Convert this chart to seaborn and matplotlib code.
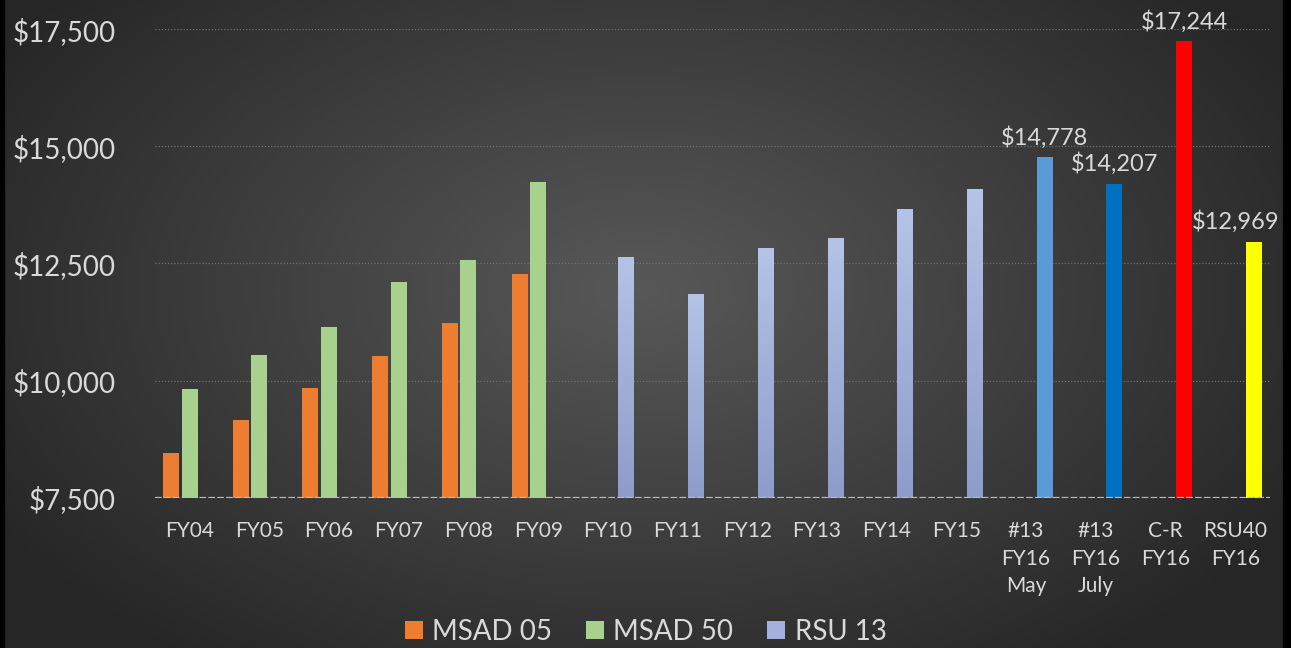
import numpy as np
import pandas as pd
import matplotlib.pyplot as plt
import seaborn as sns
from matplotlib.patches import Patch, Rectangle
from matplotlib.colors import LinearSegmentedColormap

# chart data
categories = ["FY04", "FY05", "FY06", "FY07", "FY08", "FY09",
              "FY10", "FY11", "FY12", "FY13", "FY14", "FY15",
              "#13\nFY16\nMay", "#13\nFY16\nJuly", "C-R\nFY16", "RSU40\nFY16"]
msad05 = [8460, 9150, 9840, 10520, 11220, 12270]
msad50 = [9820, 10550, 11150, 12100, 12570, 14230]
rsu13 = [12630, 11840, 12830, 13040, 13660, 14080]
fy16 = [14778, 14207, 17244, 12969]
fy16_colors = ["#5b9bd5", "#0070c0", "#ff0000", "#ffff00"]
series_names = ["MSAD 05", "MSAD 50", "RSU 13"]
series_colors = ["#ed7d31", "#a9d18e", "#a3b1dc"]
yticks = [7500, 10000, 12500, 15000, 17500]

rows = []
for c, v in zip(categories[:6], msad05):
    rows.append((c, "MSAD 05", v))
for c, v in zip(categories[:6], msad50):
    rows.append((c, "MSAD 50", v))
for c, v in zip(categories[6:], rsu13 + fy16):
    rows.append((c, "RSU 13", v))
df = pd.DataFrame(rows, columns=["cat", "series", "value"])

sns.set_theme(style="dark")
plt.rcParams['font.family'] = ['Lato', 'DejaVu Sans']
txt = "#d9d9d9"

fig = plt.figure(figsize=(12.91, 6.48), dpi=100)

# radial background
bg = fig.add_axes([0, 0, 1, 1], zorder=-10)
xx, yy = np.meshgrid(np.linspace(0, 1291, 400), np.linspace(0, 648, 200))
r = np.sqrt(((xx - 640) / 760) ** 2 + ((yy - 290) / 470) ** 2)
bg_cmap = LinearSegmentedColormap.from_list("bg", ["#585858", "#262626"])
bg.imshow(np.clip(r, 0, 1), cmap=bg_cmap, vmin=0, vmax=1, aspect="auto",
          extent=[0, 1291, 648, 0])
bg.set_axis_off()

ax = fig.add_axes([154.8 / 1291, 1 - 497.7 / 648, (1270 - 154.8) / 1291, (497.7 - 29.3) / 648])
ax.set_facecolor("none")

sns.barplot(data=df, x="cat", y="value", hue="series", order=categories,
            hue_order=series_names, palette=dict(zip(series_names, series_colors)),
            width=0.8, gap=0.14, legend=False, ax=ax, linewidth=0, saturation=1)

# RSU 13 bars: gradient fill, then the FY16 bars recoloured
grad = LinearSegmentedColormap.from_list("lav", ["#8e9cca", "#b5c3e7"])
rsu_bars = list(ax.containers[2])
for p in rsu_bars[:6]:
    x0, w, h = p.get_x(), p.get_width(), p.get_height()
    p.set_facecolor("none")
    ax.imshow(np.linspace(0, 1, 100).reshape(-1, 1), cmap=grad, aspect="auto",
              origin="lower", extent=[x0, x0 + w, 7500, p.get_y() + h], zorder=2)

label_shift = [0, 0, 0, -13]  # last label pushed left to stay inside the frame
for p, col, v, dx in zip(rsu_bars[6:], fy16_colors, fy16, label_shift):
    p.set_facecolor(col)
    ax.annotate(f"${v:,.0f}", (p.get_x() + p.get_width() / 2, v), xytext=(dx, 6),
                textcoords="offset points", ha="center", va="bottom",
                fontsize=17, color=txt)
ax.set_xlim(-0.5, len(categories) - 0.5)
ax.set_ylim(7500, 17500)

# axes styling
for s in ax.spines.values():
    s.set_visible(False)
ax.set_yticks(yticks)
ax.set_yticklabels([f"${t:,.0f}" for t in yticks])
ax.grid(False)
for t in yticks[1:]:
    ax.axhline(t, color="#707070", lw=0.9, ls=(0, (1, 1.5)), zorder=0)
ax.axhline(7500, color="#bdbdbd", lw=1.6, ls=(0, (3, 1)), zorder=3)
ax.tick_params(axis="y", length=0, pad=28, labelsize=20, labelcolor=txt)
ax.tick_params(axis="x", length=0, pad=17, labelsize=15, labelcolor=txt)
for lbl in ax.get_xticklabels():
    lbl.set_linespacing(1.45)
ax.set_xlabel("")
ax.set_ylabel("")

handles = [Patch(facecolor=c, edgecolor="none") for c in series_colors]
fig.legend(handles, series_names, loc="center", bbox_to_anchor=(0.5, 1 - 631.7 / 648),
           ncol=3, frameon=False, fontsize=20, labelcolor=txt,
           handlelength=0.65, handleheight=0.65, handletextpad=0.35, columnspacing=1.2)

# black side borders
fig.patches.append(Rectangle((0, 0), 4 / 1291, 1, transform=fig.transFigure,
                             color="black", zorder=5))
fig.patches.append(Rectangle((1283 / 1291, 0), 8 / 1291, 1, transform=fig.transFigure,
                             color="black", zorder=5))

fig.savefig("out.png", dpi=100)
